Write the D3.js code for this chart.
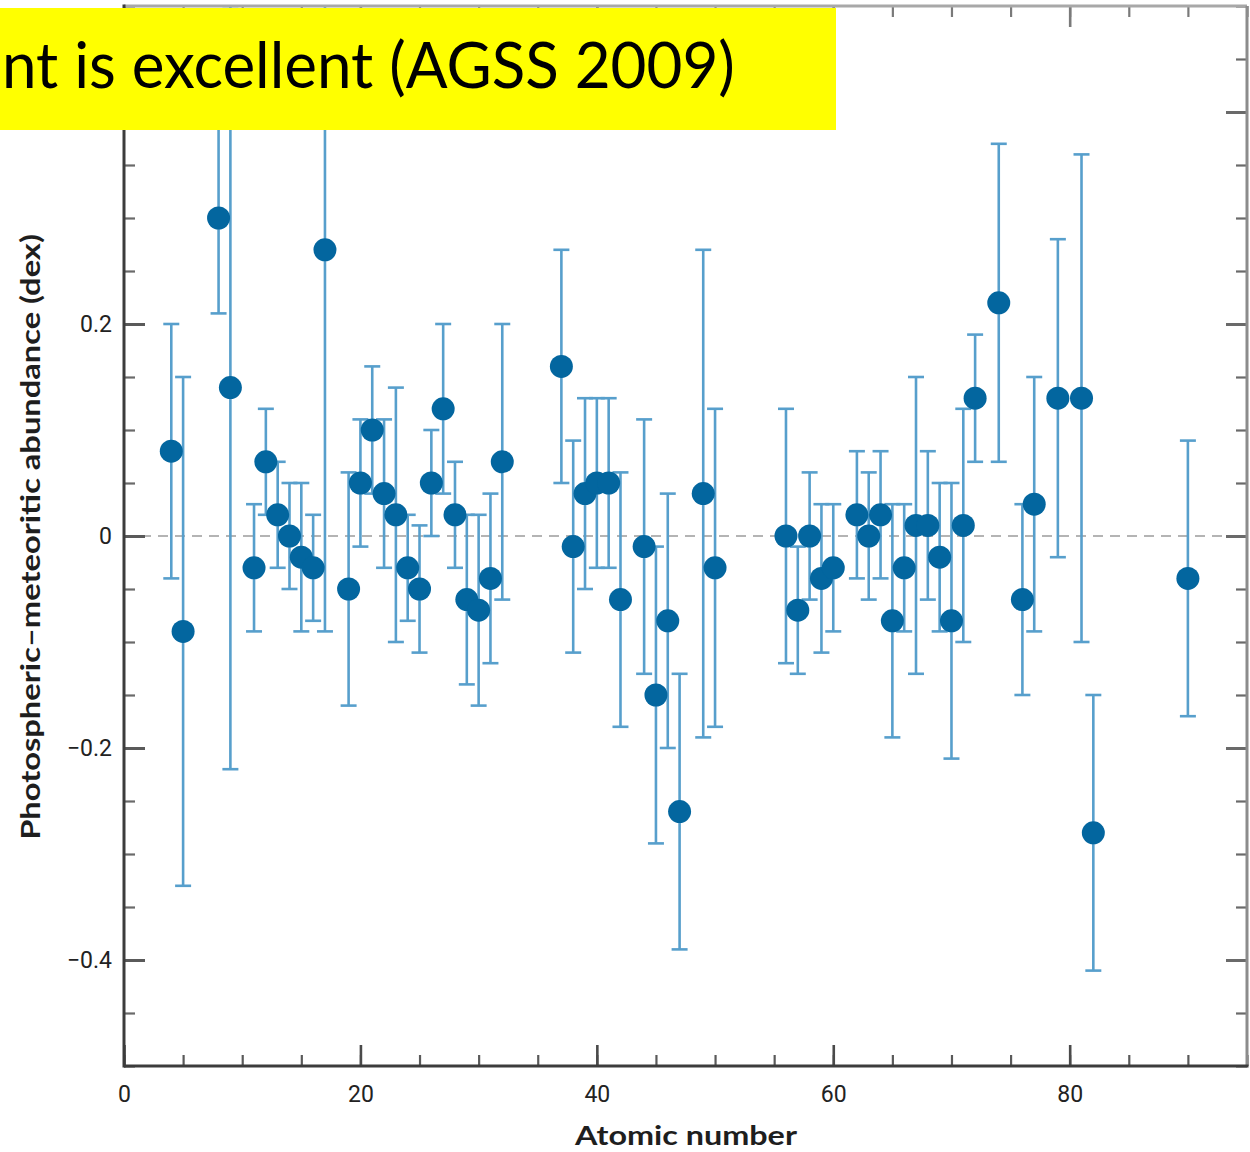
<!DOCTYPE html>
<html>
<head>
<meta charset="utf-8">
<script src="https://cdn.jsdelivr.net/npm/d3@7"></script>
<style>
  html, body { margin: 0; padding: 0; background: #ffffff; }
  svg { display: block; }
</style>
</head>
<body>
<script>
// Atomic numbers of the elements compared
const atomicNumbers = [4, 5, 8, 9, 11, 12, 13, 14, 15, 16, 17, 19, 20, 21, 22, 23, 24, 25, 26, 27,
  28, 29, 30, 31, 32, 37, 38, 39, 40, 41, 42, 44, 45, 46, 47, 49, 50, 56, 57, 58,
  59, 60, 62, 63, 64, 65, 66, 67, 68, 69, 70, 71, 72, 74, 76, 77, 79, 81, 82, 90];

// Photospheric minus meteoritic abundance (dex)
const abundanceDiff = [0.08, -0.09, 0.30, 0.14, -0.03, 0.07, 0.02, 0.00, -0.02, -0.03, 0.27, -0.05, 0.05, 0.10, 0.04, 0.02, -0.03, -0.05, 0.05, 0.12,
  0.02, -0.06, -0.07, -0.04, 0.07, 0.16, -0.01, 0.04, 0.05, 0.05, -0.06, -0.01, -0.15, -0.08, -0.26, 0.04, -0.03, 0.00, -0.07, 0.00,
  -0.04, -0.03, 0.02, 0.00, 0.02, -0.08, -0.03, 0.01, 0.01, -0.02, -0.08, 0.01, 0.13, 0.22, -0.06, 0.03, 0.13, 0.13, -0.28, -0.04];

// Combined uncertainty (dex), drawn as symmetric error bars
const uncertainty = [0.12, 0.24, 0.09, 0.36, 0.06, 0.05, 0.05, 0.05, 0.07, 0.05, 0.36, 0.11, 0.06, 0.06, 0.07, 0.12, 0.05, 0.06, 0.05, 0.08,
  0.05, 0.08, 0.09, 0.08, 0.13, 0.11, 0.10, 0.09, 0.08, 0.08, 0.12, 0.12, 0.14, 0.12, 0.13, 0.23, 0.15, 0.12, 0.06, 0.06,
  0.07, 0.06, 0.06, 0.06, 0.06, 0.11, 0.06, 0.14, 0.07, 0.07, 0.13, 0.11, 0.06, 0.15, 0.09, 0.12, 0.15, 0.23, 0.13, 0.13];

// Axis ticks
const xMajorTicks = [0, 20, 40, 60, 80];
const xMinorTicks = d3.range(0, 96, 5);
const yMajorTicks = [-0.4, -0.2, 0, 0.2, 0.4];
const yMinorTicks = d3.range(-10, 11).map(i => i * 0.05);

const xTitle = "Atomic number";
const yTitle = "Photospheric\u2013meteoritic abundance (dex)";
const bannerText = "nt is excellent (AGSS 2009)";

const data = atomicNumbers.map((z, i) => ({ z, v: abundanceDiff[i], e: uncertainty[i] }));

const W = 1250, H = 1152;
const plotLeft = 124, plotRight = 1247, plotTop = 6, plotBottom = 1066;

const svg = d3.select("body").append("svg").attr("width", W).attr("height", H);

const x = d3.scaleLinear().domain([0, 95]).range([plotLeft, plotRight]);
const y = d3.scaleLinear().domain([-0.5, 0.5]).range([plotBottom, plotTop]);

svg.append("defs").append("clipPath").attr("id", "plot-clip")
  .append("rect").attr("x", plotLeft).attr("y", plotTop)
  .attr("width", plotRight - plotLeft).attr("height", plotBottom - plotTop);

// zero reference line
svg.append("line")
  .attr("x1", plotLeft).attr("x2", plotRight).attr("y1", y(0)).attr("y2", y(0))
  .attr("stroke", "#b4b4b4").attr("stroke-width", 2).attr("stroke-dasharray", "10,7");

// error bars
const bars = svg.append("g").attr("clip-path", "url(#plot-clip)")
  .attr("stroke", "#579fcc").attr("stroke-width", 2.6).attr("fill", "none");
const bar = bars.selectAll("g").data(data).join("g");
bar.append("line")
  .attr("x1", d => x(d.z)).attr("x2", d => x(d.z))
  .attr("y1", d => y(d.v + d.e)).attr("y2", d => y(d.v - d.e));
bar.append("line")
  .attr("x1", d => x(d.z) - 8).attr("x2", d => x(d.z) + 8)
  .attr("y1", d => y(d.v + d.e)).attr("y2", d => y(d.v + d.e));
bar.append("line")
  .attr("x1", d => x(d.z) - 8).attr("x2", d => x(d.z) + 8)
  .attr("y1", d => y(d.v - d.e)).attr("y2", d => y(d.v - d.e));

// data points
svg.append("g").selectAll("circle").data(data).join("circle")
  .attr("cx", d => x(d.z)).attr("cy", d => y(d.v)).attr("r", 11.5)
  .attr("fill", "#03669f");

// axes with inward ticks on all four sides
const tickFont = "Roboto, 'Liberation Sans', sans-serif";
const fmtY = d => d === 0 ? "0" : d3.format(".1f")(d);

function styleAxis(g, color, width) {
  g.select(".domain").remove();
  g.selectAll(".tick line").attr("stroke", color).attr("stroke-width", width);
  g.selectAll(".tick text").attr("fill", "#222222").attr("font-family", tickFont).attr("font-size", 23);
}

svg.append("g").attr("transform", `translate(${plotLeft},0)`)
  .call(d3.axisLeft(y).tickValues(yMinorTicks).tickSize(-11).tickFormat(""))
  .call(g => styleAxis(g, "#6a6a6a", 2.2));
svg.append("g").attr("transform", `translate(${plotLeft},0)`)
  .call(d3.axisLeft(y).tickValues(yMajorTicks).tickSize(-21).tickPadding(12).tickFormat(fmtY))
  .call(g => styleAxis(g, "#5a5a5a", 3));

svg.append("g").attr("transform", `translate(${plotRight},0)`)
  .call(d3.axisRight(y).tickValues(yMinorTicks).tickSize(-11).tickFormat(""))
  .call(g => styleAxis(g, "#6a6a6a", 2.2));
svg.append("g").attr("transform", `translate(${plotRight},0)`)
  .call(d3.axisRight(y).tickValues(yMajorTicks).tickSize(-21).tickFormat(""))
  .call(g => styleAxis(g, "#6a6a6a", 3));

svg.append("g").attr("transform", `translate(0,${plotBottom})`)
  .call(d3.axisBottom(x).tickValues(xMinorTicks).tickSize(-11).tickFormat(""))
  .call(g => styleAxis(g, "#5a5a5a", 2.2));
svg.append("g").attr("transform", `translate(0,${plotBottom})`)
  .call(d3.axisBottom(x).tickValues(xMajorTicks).tickSize(-21).tickPadding(20).tickFormat(d3.format("d")))
  .call(g => styleAxis(g, "#4a4a4a", 2.6));

svg.append("g").attr("transform", `translate(0,${plotTop})`)
  .call(d3.axisTop(x).tickValues(xMinorTicks).tickSize(-11).tickFormat(""))
  .call(g => styleAxis(g, "#7a7a7a", 2.2));
svg.append("g").attr("transform", `translate(0,${plotTop})`)
  .call(d3.axisTop(x).tickValues(xMajorTicks).tickSize(-21).tickFormat(""))
  .call(g => styleAxis(g, "#7a7a7a", 2.6));

// frame
const frame = svg.append("g").attr("fill", "none");
frame.append("line").attr("x1", plotLeft).attr("x2", plotRight).attr("y1", plotTop).attr("y2", plotTop)
  .attr("stroke", "#a8a8a8").attr("stroke-width", 3);
frame.append("line").attr("x1", plotRight).attr("x2", plotRight).attr("y1", plotTop).attr("y2", plotBottom)
  .attr("stroke", "#8c8c8c").attr("stroke-width", 3);
frame.append("line").attr("x1", plotLeft).attr("x2", plotLeft).attr("y1", plotTop - 1.5).attr("y2", plotBottom + 1.5)
  .attr("stroke", "#3c3c3c").attr("stroke-width", 3);
frame.append("line").attr("x1", plotLeft).attr("x2", plotRight + 1.5).attr("y1", plotBottom).attr("y2", plotBottom)
  .attr("stroke", "#3c3c3c").attr("stroke-width", 3);

// horizontal stretch factor that makes a text element span the given width
function fitWidth(sel, target) {
  const w = sel.node().getComputedTextLength();
  return target / w;
}

const titleFont = "Lato, 'Open Sans', sans-serif";

// x-axis title
const xt = svg.append("text").text(xTitle)
  .attr("font-family", titleFont).attr("font-weight", 700).attr("font-size", 27)
  .attr("fill", "#1e1e1e").attr("text-anchor", "middle");
const sxX = fitWidth(xt, 222);
xt.attr("transform", `translate(686,1145) scale(${sxX},1)`);

// y-axis title
const yt = svg.append("text").text(yTitle)
  .attr("font-family", titleFont).attr("font-weight", 700).attr("font-size", 27)
  .attr("fill", "#1e1e1e").attr("text-anchor", "middle");
const sxY = fitWidth(yt, 606);
yt.attr("transform", `translate(40,537) rotate(-90) scale(${sxY},1)`);

// highlighted banner
svg.append("rect").attr("x", 0).attr("y", 8).attr("width", 836).attr("height", 122).attr("fill", "#ffff00");
const banner = svg.append("text").text(bannerText)
  .attr("font-family", "Lato, 'Open Sans', sans-serif").attr("font-size", 63).attr("fill", "#000000");
const sxB = fitWidth(banner, 733);
banner.attr("transform", `translate(2,88) scale(${sxB},1)`);
</script>
</body>
</html>
